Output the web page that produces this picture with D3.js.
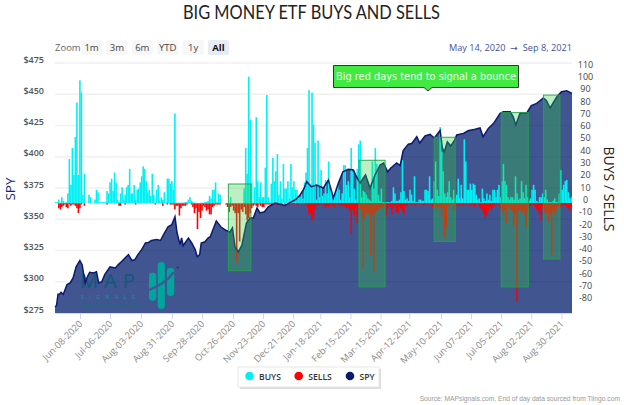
<!DOCTYPE html>
<html>
<head>
<meta charset="utf-8">
<script src="https://cdn.jsdelivr.net/npm/d3@7"></script>
<style>
    html, body { margin: 0; padding: 0; background: #fff; }
    svg { display: block; }
    text { font-family: "Open Sans", "DejaVu Sans", sans-serif; }
</style>
</head>
<body>
<svg id="chart" width="624" height="405"></svg>
<script>
const buys = [
    1,1,3,.5,5,2,.5,1,8,36,
    15,45,23,54,82,23,100,90,7,24,
    0,0,7,5,.5,.5,3,11,9,.5,
    1,1,1,1,10,8,17,20,10,25,
    17,3,1,8,13,3,7,13,15,28,
    8,8,15,3,11,12,17,22,30,28,
    18,9,11,6,24,7,.5,11,15,2,
    5,3,9,1,20,20,16,18,11,73,
    .5,.5,.5,.5,.5,.5,1,1,3,5,
    2,1,.5,.5,0,0,.5,.5,.5,1,
    1,2,6,4,11,11,17,1,8,7,
    0,0,0,0,0,0,5,0,0,0,
    0,0,0,0,0,12,45,24,103,68,
    17,.5,13,70,18,5,17,5,5,29,
    88,5,1,16,37,18,26,40,7,18,
    4,32,12,12,18,4,32,13,18,11,
    11,6,5,8,4,17,25,45,92,16,
    90,64,49,3,51,5,27,6,8,19,
    8,34,11,10,3,6,10,15,11,3,
    8,31,31,15,18,5,45,26,12,3,
    28,48,51,5,10,9,7,4,3,2,
    34,12,45,32,7,2,12,1,1,1,
    1,1,1,2,13,8,2,2,3,9,
    35,10,3,4,2,11,7,2,22,1,
    1,3,3,2,2,11,11,10,22,3,
    4,18,34,11,6,62,42,26,8,5,
    9,18,5,3,11,4,7,20,4,15,
    4,52,34,11,11,16,11,16,15,7,
    3,4,1,12,4,2,8,3,7,2,
    11,11,5,11,15,5,18,32,18,15,
    5,3,5,5,3,22,8,3,4,18,
    9,4,15,5,2,4,11,15,11,2,
    1,5,5,8,5,11,3,1,1,1,
    2,4,1,1,8,27,11,15,18,19,
    9,4,5
];
const sells = [
    0,0,-4,-5,-3,-2,-1,-3,-4,-1,
    -2,-1,-1,-2,-4,-8,-4,-1,0,-2,
    0,0,0,0,0,0,0,0,0,0,
    0,0,0,0,-1,0,0,0,0,0,
    0,0,-2,-2,0,0,-1,0,0,0,
    0,0,0,-1,0,0,0,0,0,0,
    0,0,0,0,0,0,-1,0,0,0,
    0,-2,0,0,-1,0,-1,-1,-1,-5,
    -2,-2,-10,-4,-2,-2,-2,-1,0,0,
    -1,-3,-8,-4,-21,-7,-12,-6,-2,-3,
    -6,-5,-9,-9,-3,-2,-1,-1,-1,-1,
    0,0,0,-1,-3,-7,-3,-2,-6,-8,
    -48,-8,-31,-5,-7,-3,-9,-14,-12,-8,
    -4,-2,-1,-2,-3,-1,-2,-3,-3,-1,
    -1,-1,-1,-2,-2,-1,-1,-1,-1,-1,
    -1,0,-1,0,-1,-1,0,-1,-1,0,
    -1,-1,0,-1,0,-1,-1,-3,-9,-8,
    -14,-12,-5,-2,-1,-1,-1,-1,-2,-4,
    -2,-3,-2,-1,-2,-3,-1,-1,-1,-2,
    -2,-2,-3,-4,-3,-6,-25,-5,-10,-4,
    -16,-3,-5,-12,-53,-12,-8,-8,-9,-42,
    -9,-56,-8,-6,-5,-3,-4,-3,-2,-10,
    -4,-2,-3,-9,-4,-2,-7,-8,-3,-4,
    -6,-9,-2,-2,-1,-1,-1,-1,-2,-1,
    -1,-1,-1,-1,-2,-1,-1,-1,-1,-1,
    -3,-2,-5,-2,-3,-4,-11,-4,-28,-20,
    -3,-2,-2,-1,-6,-4,-1,-2,-1,-1,
    -2,-1,-1,-1,-1,-2,-1,-1,-3,-1,
    -1,-2,-4,-6,-9,-12,-10,-6,-3,-5,
    -3,-2,-1,-1,-1,-4,-7,-10,-5,-16,
    -4,-3,-5,-7,-18,-8,-80,-6,-5,-8,
    -6,-9,-19,-7,-4,-2,-1,-2,-3,-5,
    -6,-9,-14,-3,-8,-9,-7,-15,-8,-42,
    -6,-9,-5,-3,-2,-3,-2,-1,-2,-3,
    -4,-6,-3
];

// SPY was read at its turning points, so it keeps its own day numbers
const spyDays = [
    0,1,2,3,4,5.5,8,10,12,14,16.5,18,20,21.5,23,25.5,27.5,29,31,33,
    36.5,40,42,44,48.7,51,53,55,57.5,60,62,64,67.5,70,72,75,77.5,79.6,81,83,
    84,85,88.5,90.7,93,94.4,96,97,99.5,101.5,103,107,110,113,116,117.7,119.4,121.6,124,127,
    129.4,131.6,134,136,139,141.5,146,152.6,160,162.6,165,167,170,173.6,178,181.4,184.7,188,191,194.6,
    198,200,202.4,204.6,206,209,212.3,215.7,218,220.7,222.8,226.7,229,231,234.4,236.7,240,242,245.5,248.8,
    251.7,255.5,257,258.3,260.3,262.6,265,266.5,271,274,278.7,282,284,287.5,291,295.3,297.5,302,304,305.7,
    308.6,313,316,319.6,324,326,328.5,333,336,339.5,343
];
const spy = [
    280,281,290,290,291.5,290,297.7,299,303,312,317,313.7,299,304,307.5,307,308,299,300,305.7,
    312,311,313.7,316,321.7,317,317.7,321.7,325.7,331,331.5,333,333.7,333,337.7,344,345.7,352,339,329.7,
    335,328.8,335,331,325.7,320,321.7,331,332,335,336,348.6,344,341.4,339.6,343,328,323.8,329.4,347,
    351,351,359,355,356,360,363,361,366,369.4,374,380,376,377.4,375,381.4,367,379,388,390,
    389.4,384,379,383,385.4,375,385.4,393.4,395,388,391,395,393,405,410,410.6,416,411,416.6,418,
    415,421,407,404,412,408.6,413,417.4,418.7,420.8,422,423,416,422.7,426.7,434.7,436,436,432,425.4,
    435,435,441,442.7,447,445,439,448,452,452.7,450.7
];

const priceTicks = [275, 300, 325, 350, 375, 400, 425, 450, 475];
const flowTicks = [-80, -70, -60, -50, -40, -30, -20, -10, 0, 10, 20, 30, 40, 50, 60, 70, 80, 90, 100, 110];
const dateLabels = ['Jun-08-2020', 'Jul-06-2020', 'Aug-03-2020', 'Aug-31-2020', 'Sep-28-2020', 'Oct-26-2020',
    'Nov-23-2020', 'Dec-21-2020', 'Jan-18-2021', 'Feb-15-2021', 'Mar-15-2021', 'Apr-12-2021',
    'May-10-2021', 'Jun-07-2021', 'Jul-05-2021', 'Aug-02-2021', 'Aug-30-2021'];
const dateDays = [16.6, 36.5, 57, 77.6, 97.5, 118, 138, 158, 176, 196, 216, 235, 256, 276, 296, 316, 336];

// Green highlight boxes: start day, end day, top and bottom on the flow axis
const boxStart = [115, 201.7, 251.5, 296, 324];
const boxEnd = [130, 219, 265.5, 314, 335];
const boxTop = [15.7, 35, 53.7, 73.7, 88];
const boxBottom = [-54.8, -68, -31, -68, -45.3];

const zoomLabels = ['1m', '3m', '6m', 'YTD', '1y', 'All'];
const legendLabels = ['BUYS', 'SELLS', 'SPY'];
const legendColors = ['#00f0f4', '#ff0000', '#0a1a6e'];

const svg = d3.select('#chart');
const margin = { top: 63, right: 52, bottom: 92, left: 55 };
const iw = 624 - margin.left - margin.right;
const ih = 405 - margin.top - margin.bottom;

const x = d3.scaleLinear().domain([0, 343]).range([margin.left, margin.left + iw]);
const yPrice = d3.scaleLinear().domain([275, 475]).range([margin.top + ih, margin.top]);
const yFlow = d3.scaleLinear().domain([0, 100]).range([203.3, 80.3]);
const barW = 1.6;

// Title
svg.append('text').attr('x', 311.5).attr('y', 18.5)
    .attr('text-anchor', 'middle').attr('font-size', 18.5).attr('fill', '#222')
    .attr('textLength', 257).attr('lengthAdjust', 'spacingAndGlyphs')
    .style('font-family', 'Lato, sans-serif')
    .text('BIG MONEY ETF BUYS AND SELLS');

// Range selector
svg.append('text').attr('x', 55).attr('y', 51)
    .attr('font-size', 9.5).attr('fill', '#666').text('Zoom');
const btnX = d3.scaleBand().domain(zoomLabels).range([81, 229]).paddingInner(0.17).paddingOuter(0);
zoomLabels.forEach(label => {
    const active = label === 'All';
    svg.append('rect').attr('x', btnX(label)).attr('y', 40)
        .attr('width', btnX.bandwidth()).attr('height', 15).attr('rx', 2)
        .attr('fill', active ? '#e6ebf5' : '#f7f7f7');
    svg.append('text').attr('x', btnX(label) + btnX.bandwidth() / 2).attr('y', 51)
        .attr('text-anchor', 'middle').attr('font-size', 9.5)
        .attr('font-weight', active ? 700 : 400)
        .attr('fill', active ? '#111' : '#444').text(label);
});
svg.append('text').attr('x', 572).attr('y', 51)
    .attr('text-anchor', 'end').attr('font-size', 9.2).attr('fill', '#3f539c')
    .attr('xml:space', 'preserve')
    .text('May 14, 2020  \u2192  Sep 8, 2021');

// Gridlines
svg.append('g').selectAll('line').data(priceTicks.slice(1)).join('line')
    .attr('x1', margin.left).attr('x2', margin.left + iw)
    .attr('y1', d => yPrice(d)).attr('y2', d => yPrice(d))
    .attr('stroke', '#f0f0f0').attr('stroke-width', 1.5);

// Left axis, labels sit just above their gridlines
const leftAxis = svg.append('g').attr('transform', `translate(${margin.left - 11},0)`)
    .call(d3.axisLeft(yPrice).tickValues(priceTicks).tickFormat(d => `$${d}`).tickSize(0));
leftAxis.select('.domain').remove();
leftAxis.selectAll('text').attr('dy', '-0.1em').attr('font-size', 9).attr('font-weight', 600)
    .attr('fill', '#555').attr('x', 0);

// Right axis
const rightAxis = svg.append('g').attr('transform', 'translate(585.5,0)')
    .call(d3.axisRight(yFlow).tickValues(flowTicks).tickFormat(d => `${d}`).tickSize(0));
rightAxis.select('.domain').remove();
rightAxis.selectAll('text').attr('dy', '-0.1em').attr('font-size', 9).attr('fill', '#444')
    .attr('x', 0).attr('text-anchor', 'middle');

// SPY area
const spyRows = spyDays.map((d, i) => ({ day: d, value: spy[i] }));
const area = d3.area().x(d => x(d.day)).y0(yPrice(275)).y1(d => yPrice(d.value));
const line = d3.line().x(d => x(d.day)).y(d => yPrice(d.value));
svg.append('path').datum(spyRows).attr('d', area).attr('fill', '#021c6c').attr('fill-opacity', 0.75);

// Watermark
const mark = svg.append('g');
mark.append('text').attr('x', 80).attr('y', 287.5).attr('font-size', 20).attr('letter-spacing', 6)
    .attr('fill', '#0f5a78').text('MAP');
mark.append('text').attr('x', 81).attr('y', 299).attr('font-size', 5).attr('letter-spacing', 5.6)
    .attr('fill', '#149a98').text('SIGNALS');
mark.append('text').attr('x', 81).attr('y', 306.5).attr('font-size', 4.4)
    .attr('fill', '#1a6d80').text('Tomorrow\u2019s top stocks today');
mark.append('text').attr('x', 176).attr('y', 270).attr('font-size', 6)
    .attr('fill', '#1a2a70').text('*');
[[149, 272.7, 28], [157.7, 262, 47], [167, 268, 28]].forEach(([lx, ly, lh]) => {
    mark.append('rect').attr('x', lx).attr('y', ly).attr('width', 7.2).attr('height', lh)
        .attr('rx', 3.4).attr('fill', '#00a59c');
});
mark.append('path').attr('d', 'M149,290 Q165,284 174,272').attr('fill', 'none')
    .attr('stroke', '#3d5a95').attr('stroke-width', 2.4);

// Buys and sells bars
svg.append('g').selectAll('rect').data(buys).join('rect')
    .attr('x', (d, i) => x(i)).attr('width', barW)
    .attr('y', d => yFlow(d)).attr('height', d => yFlow(0) - yFlow(d))
    .attr('fill', '#00f0f4');
svg.append('g').selectAll('rect').data(sells).join('rect')
    .attr('x', (d, i) => x(i)).attr('width', barW)
    .attr('y', yFlow(0)).attr('height', d => yFlow(d) - yFlow(0))
    .attr('fill', '#ff0000');

// SPY line
svg.append('path').datum(spyRows).attr('d', line)
    .attr('fill', 'none').attr('stroke', '#0a1a6e').attr('stroke-width', 1.5);

// Highlight boxes
boxStart.forEach((s, i) => {
    svg.append('rect')
        .attr('x', x(s)).attr('width', x(boxEnd[i]) - x(s))
        .attr('y', yFlow(boxTop[i])).attr('height', yFlow(boxBottom[i]) - yFlow(boxTop[i]))
        .attr('fill', '#2ecc40').attr('fill-opacity', 0.32)
        .attr('stroke', '#1fa34a').attr('stroke-width', 0.9);
});

// Bottom axis
const bottomAxis = svg.append('g').attr('transform', `translate(0,${margin.top + ih})`)
    .call(d3.axisBottom(x).tickValues(dateDays).tickFormat((d, i) => dateLabels[i]).tickSize(6).tickSizeOuter(0));
bottomAxis.select('.domain').attr('stroke', '#ccd6eb').attr('stroke-width', 1.2);
bottomAxis.selectAll('line').attr('stroke', '#ccd6eb');
bottomAxis.selectAll('text')
    .attr('font-size', 9.3).attr('fill', '#8a8a8a')
    .attr('text-anchor', 'end').attr('dx', 0).attr('dy', 0)
    .attr('x', -6.4).attr('y', 9.9)
    .attr('transform', 'rotate(-45)');

// Axis titles
svg.append('text').attr('transform', 'translate(15,189) rotate(-90)')
    .attr('text-anchor', 'middle').attr('font-size', 13.5).attr('fill', '#14237a').text('SPY');
svg.append('text').attr('transform', 'translate(604,189) rotate(90)')
    .attr('text-anchor', 'middle').attr('font-size', 14).attr('fill', '#222').text('BUYS / SELLS');

// Callout
svg.append('path')
    .attr('d', 'M333.5,65.5 H518.5 V87.5 H432 L428,91 L424,87.5 H333.5 Z')
    .attr('fill', '#40ea40').attr('stroke', '#333').attr('stroke-width', 1);
svg.append('text').attr('x', 426).attr('y', 79.5)
    .attr('text-anchor', 'middle').attr('font-size', 10)
    .attr('fill', '#f2fff2').attr('textLength', 180).attr('lengthAdjust', 'spacingAndGlyphs')
    .style('font-family', '"DejaVu Sans", sans-serif')
    .text('Big red days tend to signal a bounce');

// Legend
const legend = svg.append('g');
legend.append('rect').attr('x', 240).attr('y', 369).attr('width', 141).attr('height', 20).attr('fill', '#ddd');
legend.append('rect').attr('x', 238).attr('y', 367).attr('width', 141).attr('height', 20)
    .attr('fill', '#fff').attr('stroke', '#e8e8e8');
const legendDotX = [249.5, 298.7, 350];
legendLabels.forEach((label, i) => {
    legend.append('circle').attr('cx', legendDotX[i]).attr('cy', 376).attr('r', 4.3).attr('fill', legendColors[i]);
    legend.append('text').attr('x', legendDotX[i] + 9.5).attr('y', 379.5)
        .attr('font-size', 8.6).attr('font-weight', 600).attr('fill', '#333').text(label);
});

// Source
svg.append('text').attr('x', 620).attr('y', 400.5)
    .attr('text-anchor', 'end').attr('font-size', 6.7).attr('fill', '#999')
    .style('font-family', '"Liberation Sans", sans-serif')
    .text('Source: MAPsignals.com, End of day data sourced from Tiingo.com');
</script>
</body>
</html>
